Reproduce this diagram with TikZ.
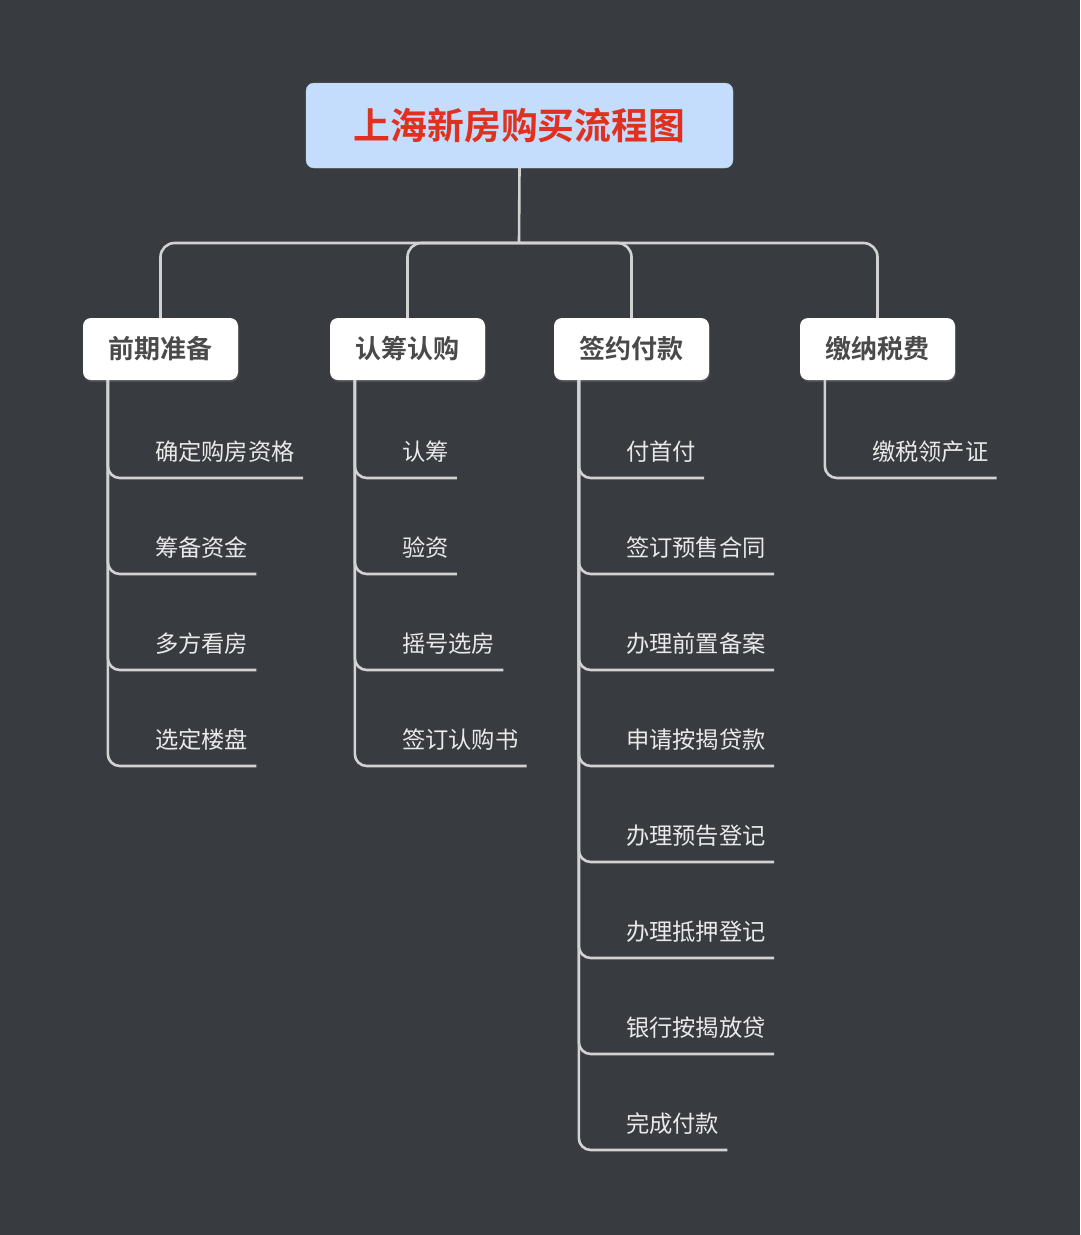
\documentclass[tikz,border=0pt]{standalone}
\usepackage{fontspec}
\newfontfamily\cjk[BoldFont={Noto Sans CJK SC Bold}]{Noto Sans CJK SC}
\usetikzlibrary{positioning, shadows}

\definecolor{bgcol}{HTML}{383B40}
\definecolor{linecol}{HTML}{D2D2D2}
\definecolor{titlefill}{HTML}{C5DDFD}
\definecolor{titletext}{HTML}{E0301F}
\definecolor{branchtext}{HTML}{4A4A4A}
\definecolor{leaftext}{HTML}{E9E9E9}

\tikzset{
  conn/.style={draw=linecol, line width=2.6pt},
  titlebox/.style={fill=titlefill, draw=titlefill!80!gray, rounded corners=8pt,
    minimum width=427pt, minimum height=85pt, text=titletext,
    font=\cjk\bfseries\fontsize{36.8}{40}\selectfont},
  branch/.style={fill=white, rounded corners=8pt, minimum width=155pt, minimum height=62pt,
    text=branchtext, font=\cjk\bfseries\fontsize{26}{30}\selectfont,
    drop shadow={shadow xshift=1pt, shadow yshift=-2pt, opacity=0.3}},
  leaf/.style={anchor=south west, inner xsep=8pt, inner ysep=12pt, text depth=5pt,
    text=leaftext, font=\cjk\fontsize{23.3}{28}\selectfont},
}

\begin{document}
\begin{tikzpicture}[x=1pt, y=-1pt]
\def\rowgap{96}
\def\firstrow{478}

\fill[bgcol] (0,0) rectangle (1080,1235);

% title and hub
\node[titlebox] (title) at (519.5,125.5) {上海新房购买流程图};
\coordinate (hub) at (519,243);
\draw[conn] (title.south) -- (hub);

% branches
\node[branch] (prep) at (160.5,349) {前期准备};
\node[branch] (sub) at (407.5,349) {认筹认购};
\node[branch] (sign) at (631.5,349) {签约付款};
\node[branch] (tax) at (877.5,349) {缴纳税费};

\foreach \b in {prep,sub,sign,tax}
  \draw[conn, rounded corners=14pt] (hub) -| (\b.north);

% leaves
\foreach \b/\lst in {prep/{确定购房资格,筹备资金,多方看房,选定楼盘},
                     sub/{认筹,验资,摇号选房,签订认购书},
                     sign/{付首付,签订预售合同,办理前置备案,申请按揭贷款,办理预告登记,办理抵押登记,银行按揭放贷,完成付款},
                     tax/{缴税领产证}}{
  \foreach \t [count=\i] in \lst {
    \node[leaf] (\b\i) at ([xshift=64pt]\b.south west |- 0,{\firstrow+\rowgap*(\i-1)}) {\t};
    \draw[conn, rounded corners=12pt] ([xshift=25pt]\b.south west) |- (\b\i.south east);
  }
}
\end{tikzpicture}
\end{document}
